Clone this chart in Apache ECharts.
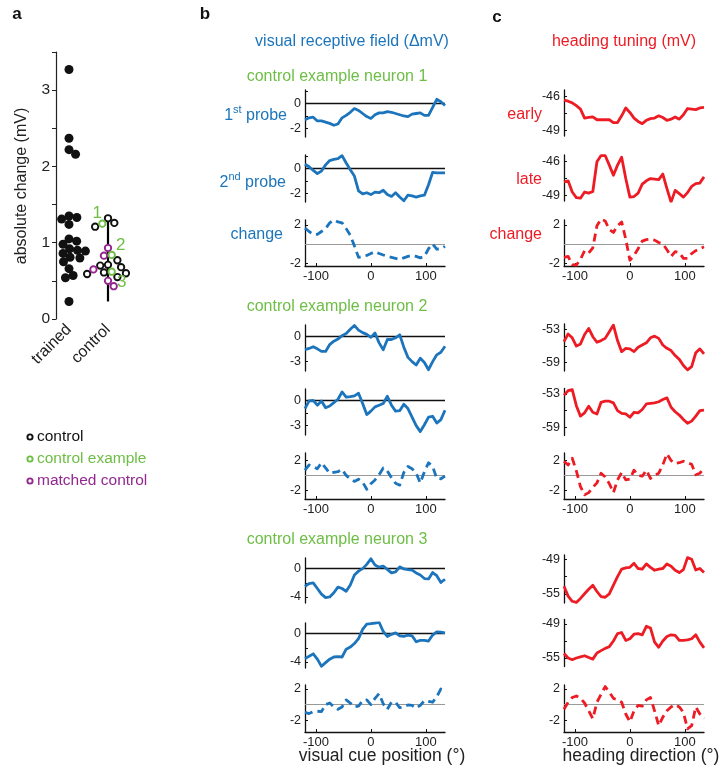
<!DOCTYPE html>
<html><head><meta charset="utf-8">
<script src="https://cdn.jsdelivr.net/npm/echarts@6/dist/echarts.min.js"></script>
<style>html,body{margin:0;padding:0;background:#fff}#c{width:721px;height:767px}</style>
</head><body><div id="c"></div><script>
// ---------------- DATA ----------------
const categories = ['trained', 'control'];
const panelAYLabels = [0, 1, 2, 3];
const trained = [3.27, 2.37, 2.22, 2.16, 1.35, 1.33, 1.31, 1.24, 1.05, 1.02, 0.98, 0.97, 0.92, 0.90, 0.89, 0.86, 0.84, 0.81, 0.80, 0.75, 0.74, 0.66, 0.57, 0.54, 0.23];
const controlBlack = [1.32, 1.26, 1.21, 0.77, 0.71, 0.70, 0.68, 0.61, 0.60, 0.59, 0.55];
const controlExample = [1.25, 0.84, 0.62];
const controlExampleLabels = ['1', '2', '3'];
const matchedControl = [0.93, 0.83, 0.65, 0.50, 0.43];
const controlRange = [0.23, 1.36];

const cuePos = [-120,-112.5,-105,-97.5,-90,-82.5,-75,-67.5,-60,-52.5,-45,-37.5,-30,-22.5,-15,-7.5,0,7.5,15,22.5,30,37.5,45,52.5,60,67.5,75,82.5,90,97.5,105,112.5,120,127.5,135];
const headingDir = [-120,-112.5,-105,-97.5,-90,-82.5,-75,-67.5,-60,-52.5,-45,-37.5,-30,-22.5,-15,-7.5,0,7.5,15,22.5,30,37.5,45,52.5,60,67.5,75,82.5,90,97.5,105,112.5,120,127.5,135];
const xTickLabels = [-100, 0, 100];

// neuron 1
const n1Probe1 = [-1.3,-1.15,-1.1,-1.4,-1.4,-1.5,-1.6,-1.75,-1.65,-1.15,-0.95,-0.7,-0.4,-0.55,-0.8,-1.05,-1.2,-0.9,-0.75,-0.75,-0.65,-0.7,-0.8,-0.9,-1.0,-1.05,-0.85,-0.8,-0.75,-0.95,-0.95,-0.3,0.35,0.15,-0.15];
const n1Probe2 = [0.35,0.15,-0.15,-0.4,-0.2,0.3,0.65,0.75,0.8,1.05,0.45,-0.1,-0.6,-1.8,-2.05,-1.95,-2.1,-1.9,-1.95,-1.75,-2.1,-2.25,-1.95,-2.3,-2.6,-2.15,-2.2,-2.3,-2.2,-2.15,-1.3,-0.3,-0.35,-0.35,-0.35];
const n1VisChange = [1.65,1.3,1.0,1.0,1.3,1.6,2.2,2.5,2.3,2.2,1.6,0.9,-0.2,-1.4,-1.3,-1.2,-1.0,-0.8,-1.0,-1.15,-1.3,-1.4,-1.5,-1.6,-1.45,-1.3,-1.2,-1.3,-1.45,-1.3,-0.5,0.0,-0.55,-0.5,-0.25];
const n1Early = [-46.3,-46.4,-46.55,-46.8,-47.1,-47.9,-47.85,-47.8,-48.05,-48.05,-48.05,-48.05,-48.3,-48.3,-47.7,-47.0,-47.4,-47.9,-48.2,-48.4,-48.1,-47.95,-47.9,-47.7,-47.85,-48.1,-48.0,-47.8,-48.0,-47.6,-47.05,-47.1,-47.15,-47.0,-46.95];
const n1Late = [-47.8,-47.7,-48.7,-49.2,-49.25,-48.7,-48.8,-48.65,-46.0,-45.45,-45.45,-46.3,-47.2,-46.3,-45.6,-47.5,-49.15,-49.1,-48.8,-48.0,-47.7,-47.5,-47.55,-47.6,-47.1,-48.4,-49.6,-48.55,-48.85,-49.15,-48.75,-48.2,-47.95,-47.9,-47.35];
const n1HeadChange = [-1.4,-1.3,-2.15,-2.2,-1.6,-0.7,-0.95,-0.4,1.9,2.6,2.4,1.5,1.2,1.9,2.3,0.5,-1.7,-1.2,-0.5,0.3,0.45,0.5,0.4,0.15,0.0,-0.6,-1.3,-0.8,-0.9,-1.5,-1.5,-1.0,-0.7,-0.5,-0.3];
// neuron 2
const n2Probe1 = [-1.6,-1.45,-1.25,-1.5,-1.8,-1.8,-1.0,-0.6,-0.35,0.05,0.3,0.8,1.25,0.7,0.4,0.2,-0.15,0.35,-0.8,-1.6,-0.4,-0.4,-0.2,0.15,-1.3,-2.5,-3.0,-3.4,-2.6,-3.1,-3.95,-3.0,-2.2,-1.9,-1.2];
const n2Probe2 = [-1.0,-0.1,-0.05,-0.6,-0.1,-0.9,-0.7,-0.3,0.1,0.95,0.35,0.4,0.5,0.8,-0.4,-1.7,-1.3,-0.8,-0.6,-0.4,0.45,-0.6,-1.3,-1.25,-0.5,-1.0,-2.0,-3.0,-3.7,-2.9,-2.0,-1.9,-2.7,-2.3,-1.2];
const n2VisChange = [0.7,1.4,1.2,0.9,1.7,1.0,0.3,0.4,0.5,0.8,0.0,-0.45,-0.8,-0.5,-0.9,-1.85,-1.1,-0.6,0.1,1.0,0.6,-0.3,-1.05,-1.3,0.4,1.2,0.9,0.3,-1.0,0.5,1.7,1.2,-0.4,-0.45,-0.1];
const n2Early = [-55.2,-53.8,-54.5,-56.0,-55.6,-53.9,-52.8,-54.3,-55.3,-55.0,-54.6,-53.4,-52.2,-55.0,-57.0,-56.4,-56.5,-57.0,-56.2,-55.8,-55.4,-54.5,-54.2,-54.6,-55.8,-56.4,-56.8,-57.7,-58.4,-59.5,-60.3,-59.7,-57.2,-56.5,-57.4];
const n2Late = [-53.2,-52.4,-52.2,-55.1,-57.0,-56.4,-55.2,-56.3,-56.6,-54.5,-54.3,-54.3,-54.6,-56.0,-56.5,-56.6,-57.2,-56.3,-56.4,-55.8,-54.8,-54.7,-54.6,-54.4,-54.0,-53.7,-55.4,-56.2,-56.8,-57.6,-58.3,-57.9,-57.0,-56.0,-55.9];
const n2HeadChange = [1.9,1.4,2.3,0.6,-1.5,-2.6,-2.3,-1.6,-1.0,0.3,-0.2,-1.1,-2.3,-0.6,0.4,-0.6,-0.5,0.7,0.0,-0.1,0.7,-0.4,0.0,0.3,1.4,2.9,2.0,1.6,1.7,1.9,1.7,1.5,0.1,0.3,1.0];
// neuron 3
const n3Probe1 = [-2.5,-2.1,-2.0,-2.8,-3.6,-4.1,-4.0,-3.4,-2.6,-2.8,-3.2,-2.3,-0.9,-0.35,0.0,0.6,1.4,0.5,0.2,0.35,-0.1,-0.6,-0.45,0.25,-0.05,-0.15,-0.2,-0.6,-0.9,-1.4,-1.45,-0.55,-1.0,-1.95,-1.5];
const n3Probe2 = [-3.5,-3.2,-2.85,-3.6,-4.6,-4.1,-3.6,-3.3,-3.25,-3.3,-2.2,-1.9,-1.4,-0.7,0.6,1.35,1.4,1.5,1.6,0.3,-0.4,-0.1,0.1,-0.3,-0.4,-0.2,-0.3,-1.15,-0.95,-0.95,-1.05,-0.2,0.25,0.2,0.1];
const n3VisChange = [-1.0,-1.15,-0.9,-0.85,-0.9,0.0,0.2,-0.3,-0.6,-0.3,0.6,0.2,-0.3,-0.2,0.5,0.6,0.0,0.8,1.4,0.1,-0.6,0.3,0.3,-0.4,-0.3,-0.05,-0.1,-0.45,-0.1,0.5,0.4,0.3,1.0,2.0,1.5];
const n3Early = [-53.7,-55.4,-56.3,-56.5,-55.8,-55.0,-54.2,-53.5,-54.6,-55.5,-55.6,-55.0,-53.5,-52.0,-50.7,-50.5,-50.4,-49.7,-50.6,-50.7,-49.8,-50.4,-50.9,-50.7,-50.6,-49.8,-50.2,-50.9,-51.3,-50.8,-48.7,-49.0,-50.85,-50.6,-51.3];
const n3Late = [-54.2,-55.0,-55.3,-55.0,-54.8,-54.6,-54.9,-55.2,-54.1,-53.7,-53.3,-53.0,-52.0,-50.7,-50.5,-51.9,-51.6,-50.8,-50.7,-50.9,-49.4,-49.7,-52.2,-53.1,-52.0,-51.2,-50.9,-51.0,-51.9,-51.9,-51.8,-51.6,-50.9,-52.2,-53.2];
const n3HeadChange = [-0.6,0.3,0.9,1.1,0.8,0.2,-0.8,-1.8,0.3,1.3,2.3,1.6,0.8,0.6,0.3,-1.2,-2.2,-0.8,-0.1,-0.2,0.6,0.9,-0.8,-2.7,-1.6,-0.8,-0.3,0.0,-0.3,-1.0,-3.1,-2.7,-0.3,-1.2,-1.8];

// y tick labels
const n1ProbeLabels = [0, -2], n2ProbeLabels = [0, -3], n3ProbeLabels = [0, -4];
const changeLabels = [2, -2];
const n1HeadLabels = [-46, -49], n2HeadLabels = [-53, -59], n3HeadLabels = [-49, -55];

// ---------------- STYLE / LAYOUT ----------------
const FONT = '"Liberation Sans", Arial, sans-serif';
const BLUE = '#1c75bc', RED = '#ed1c24', GREEN = '#6dbe45', PURPLE = '#92278f', BLACK = '#111111';
const B_LEFT = 305, C_LEFT = 564, PW = 140;

const plots = [
  {left:B_LEFT, top:90,  h:47, min:-2.7, max:1.1, x:cuePos, y:n1Probe1, labels:n1ProbeLabels, ticks:[1,0,-1,-2], color:BLUE, kind:'probe'},
  {left:B_LEFT, top:155, h:47, min:-2.7, max:1.1, x:cuePos, y:n1Probe2, labels:n1ProbeLabels, ticks:[1,0,-1,-2], color:BLUE, kind:'probe'},
  {left:B_LEFT, top:220, h:46, min:-2.3, max:2.5, x:cuePos, y:n1VisChange, labels:changeLabels, ticks:[2,0,-2], color:BLUE, kind:'change'},
  {left:C_LEFT, top:90,  h:46, min:-49.5, max:-45.4, x:headingDir, y:n1Early, labels:n1HeadLabels, ticks:[-46,-47.5,-49], color:RED, kind:'head'},
  {left:C_LEFT, top:155, h:46, min:-49.5, max:-45.4, x:headingDir, y:n1Late, labels:n1HeadLabels, ticks:[-46,-47.5,-49], color:RED, kind:'head'},
  {left:C_LEFT, top:220, h:46, min:-2.3, max:2.5, x:headingDir, y:n1HeadChange, labels:changeLabels, ticks:[2,0,-2], color:RED, kind:'change'},
  {left:B_LEFT, top:325, h:46, min:-4.1, max:1.3, x:cuePos, y:n2Probe1, labels:n2ProbeLabels, ticks:[0,-1.5,-3], color:BLUE, kind:'probe'},
  {left:B_LEFT, top:389, h:46, min:-4.1, max:1.3, x:cuePos, y:n2Probe2, labels:n2ProbeLabels, ticks:[0,-1.5,-3], color:BLUE, kind:'probe'},
  {left:B_LEFT, top:453, h:46, min:-3.15, max:3.0, x:cuePos, y:n2VisChange, labels:changeLabels, ticks:[2,0,-2], color:BLUE, kind:'change'},
  {left:C_LEFT, top:324, h:47, min:-60.5, max:-52.0, x:headingDir, y:n2Early, labels:n2HeadLabels, ticks:[-53,-56,-59], color:RED, kind:'head'},
  {left:C_LEFT, top:388.5, h:47, min:-60.5, max:-52.0, x:headingDir, y:n2Late, labels:n2HeadLabels, ticks:[-53,-56,-59], color:RED, kind:'head'},
  {left:C_LEFT, top:453, h:46, min:-3.15, max:3.0, x:headingDir, y:n2HeadChange, labels:changeLabels, ticks:[2,0,-2], color:RED, kind:'change'},
  {left:B_LEFT, top:558, h:45, min:-4.85, max:1.5, x:cuePos, y:n3Probe1, labels:n3ProbeLabels, ticks:[0,-2,-4], color:BLUE, kind:'probe'},
  {left:B_LEFT, top:623, h:45, min:-4.85, max:1.5, x:cuePos, y:n3Probe2, labels:n3ProbeLabels, ticks:[0,-2,-4], color:BLUE, kind:'probe'},
  {left:B_LEFT, top:685, h:47, min:-3.5, max:2.5, x:cuePos, y:n3VisChange, labels:changeLabels, ticks:[2,0,-2], color:BLUE, kind:'change'},
  {left:C_LEFT, top:555, h:48, min:-56.6, max:-48.25, x:headingDir, y:n3Early, labels:n3HeadLabels, ticks:[-49,-52,-55], color:RED, kind:'head'},
  {left:C_LEFT, top:619.5, h:47, min:-56.5, max:-48.2, x:headingDir, y:n3Late, labels:n3HeadLabels, ticks:[-49,-52,-55], color:RED, kind:'head'},
  {left:C_LEFT, top:685, h:47, min:-3.5, max:2.5, x:headingDir, y:n3HeadChange, labels:changeLabels, ticks:[2,0,-2], color:RED, kind:'change'}
];

// beeswarm offsets (pixel based) -> x-axis units
function swarm(vals, r, pxY, pxX) {
  const order = vals.map((v, i) => i).sort((a, b) => vals[b] - vals[a]);
  const placed = [], out = new Array(vals.length), d2 = 4 * r * r;
  for (const i of order) {
    const y = vals[i] * pxY;
    const cands = [0];
    for (const p of placed) {
      const dy = y - p.y;
      if (Math.abs(dy) < 2 * r) { const dx = Math.sqrt(d2 - dy * dy); cands.push(p.x + dx, p.x - dx); }
    }
    cands.sort((a, b) => Math.abs(a) - Math.abs(b));
    let best = 0;
    for (const c of cands) {
      if (placed.every(p => (p.x - c) ** 2 + (p.y - y) ** 2 >= d2 - 0.01)) { best = c; break; }
    }
    placed.push({x: best, y});
    out[i] = best / pxX;
  }
  return out;
}

const A = {left:56, top:52, width:78, height:267, xmin:2/3, xmax:8/3, ymax:3.5};
const pxY = A.height / A.ymax, pxX = A.width / (A.xmax - A.xmin);
const tOff = swarm(trained, 4.0, pxY, pxX);
const ctrlAll = controlBlack.concat(controlExample, matchedControl);
const cOff = swarm(ctrlAll, 3.9, pxY, pxX);
const nB = controlBlack.length, nE = controlExample.length;
const labelOffsets = [[-5, -10], [9, -10], [10, 11]];

const grid = [{left:A.left, top:A.top, width:A.width, height:A.height}];
const xAxis = [{
  gridIndex:0, type:'value', min:A.xmin, max:A.xmax,
  axisLine:{show:false}, axisTick:{show:false}, splitLine:{show:false},
  axisLabel:{customValues:[1, 2], formatter:v => categories[Math.round(v) - 1], rotate:45, fontSize:16, color:'#222', fontFamily:FONT, margin:8}
}];
const yAxis = [{
  gridIndex:0, type:'value', min:0, max:A.ymax,
  axisLine:{show:true, lineStyle:{color:'#222', width:1.2}},
  axisTick:{show:true, customValues:[0,0.5,1,1.5,2,2.5,3,3.5], inside:false, length:4, lineStyle:{color:'#222'}},
  axisLabel:{customValues:panelAYLabels, fontSize:15.5, color:'#222', fontFamily:FONT, margin:6},
  splitLine:{show:false}
}];
const series = [
  {type:'line', xAxisIndex:0, yAxisIndex:0, data:[[2, controlRange[0]], [2, controlRange[1]]], symbol:'none', lineStyle:{color:'#000', width:2.2}, z:1},
  {type:'scatter', xAxisIndex:0, yAxisIndex:0, data:trained.map((v, i) => [1 + tOff[i], v]), symbolSize:9, itemStyle:{color:BLACK, opacity:1}, z:3},
  {type:'scatter', xAxisIndex:0, yAxisIndex:0, data:controlBlack.map((v, i) => [2 + cOff[i], v]), symbolSize:6.4, itemStyle:{color:'#fff', borderColor:BLACK, borderWidth:1.9, opacity:1}, z:3},
  {type:'scatter', xAxisIndex:0, yAxisIndex:0, data:matchedControl.map((v, i) => [2 + cOff[nB + nE + i], v]), symbolSize:6.4, itemStyle:{color:'#fff', borderColor:PURPLE, borderWidth:1.9, opacity:1}, z:3},
  {type:'scatter', xAxisIndex:0, yAxisIndex:0, symbolSize:6.4, itemStyle:{color:'#fff', borderColor:GREEN, borderWidth:1.9, opacity:1}, z:3,
   data:controlExample.map((v, i) => ({value:[2 + cOff[nB + i], v], label:{show:true, formatter:controlExampleLabels[i], position:'inside', offset:labelOffsets[i], color:GREEN, fontSize:17, fontFamily:FONT}}))}
];

plots.forEach((p, k) => {
  const gi = k + 1;
  grid.push({left:p.left, top:p.top, width:PW, height:p.h});
  const isChange = p.kind === 'change';
  xAxis.push({
    gridIndex:gi, type:'value', min:-120, max:135, position:'bottom',
    axisLine:{show:isChange, onZero:false, lineStyle:{color:'#111', width:1.3}},
    axisTick:{show:isChange, customValues:xTickLabels, inside:true, length:3, lineStyle:{color:'#111'}},
    axisLabel:{show:isChange, customValues:xTickLabels, fontSize:13, color:'#222', fontFamily:FONT, margin:4},
    splitLine:{show:false}
  });
  yAxis.push({
    gridIndex:gi, type:'value', min:p.min, max:p.max,
    axisLine:{show:true, onZero:false, lineStyle:{color:'#111', width:1.3}},
    axisTick:{show:true, customValues:p.ticks, inside:true, length:3, lineStyle:{color:'#111'}},
    axisLabel:{customValues:p.labels, fontSize:12.5, color:'#222', fontFamily:FONT, margin:4},
    splitLine:{show:false}
  });
  const s = {
    type:'line', xAxisIndex:gi, yAxisIndex:gi, data:p.x.map((x, i) => [x, p.y[i]]),
    symbol:'none', smooth:false, z:3,
    lineStyle:{color:p.color, width:2.8, type:isChange ? [8, 5] : 'solid', join:'round', cap:'butt'}
  };
  if (p.kind !== 'head') {
    s.markLine = {silent:true, symbol:'none', label:{show:false}, animation:false, z:1,
      data:[{yAxis:0}], lineStyle:{color:isChange ? '#9a9a9a' : '#111', width:isChange ? 1.2 : 1.4, type:'solid'}};
  }
  series.push(s);
});

// ---------------- TEXT ----------------
function txt(text, x, y, o) {
  return {type:'text', x, y, style:Object.assign({text, fontFamily:FONT, fontSize:16, align:'center', verticalAlign:'middle'}, o || {})};
}
const richStyle = {a:{fontSize:16, fill:BLUE, fontFamily:FONT, lineHeight:20, verticalAlign:'bottom'}, s:{fontSize:11, fill:BLUE, fontFamily:FONT, lineHeight:20, verticalAlign:'top'}};
const graphic = [
  txt('a', 17, 14, {fontSize:17, fontWeight:'bold', fill:'#111'}),
  txt('b', 205, 14, {fontSize:17, fontWeight:'bold', fill:'#111'}),
  txt('c', 497, 17, {fontSize:17, fontWeight:'bold', fill:'#111'}),
  {type:'text', x:22, y:186, rotation:Math.PI / 2, style:{text:'absolute change (mV)', fontFamily:FONT, fontSize:16, fill:'#222', align:'center', verticalAlign:'middle'}},
  txt('visual receptive field (ΔmV)', 352, 42, {fill:BLUE}),
  txt('heading tuning (mV)', 624, 42, {fill:RED}),
  txt('control example neuron 1', 337, 77, {fill:GREEN}),
  txt('control example neuron 2', 337, 307, {fill:GREEN}),
  txt('control example neuron 3', 337, 540, {fill:GREEN}),
  {type:'text', x:287, y:114, style:{text:'{a|1}{s|st}{a| probe}', fontFamily:FONT, align:'right', verticalAlign:'middle', rich:richStyle}},
  {type:'text', x:286, y:181, style:{text:'{a|2}{s|nd}{a| probe}', fontFamily:FONT, align:'right', verticalAlign:'middle', rich:richStyle}},
  txt('change', 283, 235, {fill:BLUE, align:'right'}),
  txt('early', 542, 115, {fill:RED, align:'right'}),
  txt('late', 542, 180, {fill:RED, align:'right'}),
  txt('change', 542, 235, {fill:RED, align:'right'}),
  txt('visual cue position (°)', 382, 756, {fill:'#222', fontSize:17.5}),
  txt('heading direction (°)', 641, 756, {fill:'#222', fontSize:17.5}),
  {type:'circle', shape:{cx:30, cy:437, r:2.6}, style:{fill:'#fff', stroke:BLACK, lineWidth:1.9}},
  {type:'circle', shape:{cx:30, cy:459, r:2.6}, style:{fill:'#fff', stroke:GREEN, lineWidth:1.9}},
  {type:'circle', shape:{cx:30, cy:481, r:2.6}, style:{fill:'#fff', stroke:PURPLE, lineWidth:1.9}},
  txt('control', 37, 437, {fill:BLACK, align:'left', fontSize:15.5}),
  txt('control example', 37, 459, {fill:GREEN, align:'left', fontSize:15.5}),
  txt('matched control', 37, 481, {fill:PURPLE, align:'left', fontSize:15.5})
];

const chart = echarts.init(document.getElementById('c'), null, {renderer:'canvas'});
chart.setOption({animation:false, backgroundColor:'#fff', textStyle:{fontFamily:FONT}, grid, xAxis, yAxis, series, graphic});
</script></body></html>
